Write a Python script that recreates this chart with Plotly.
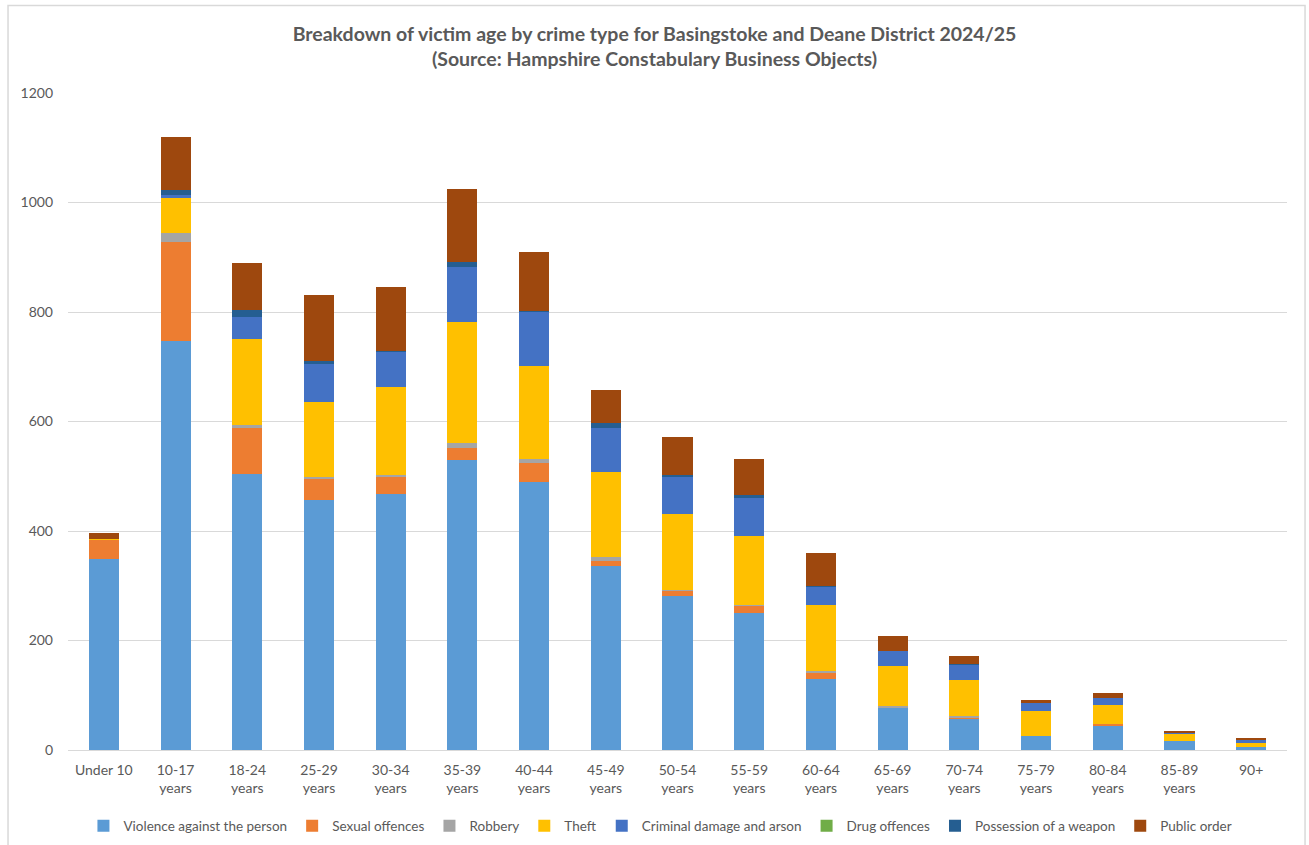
import plotly.graph_objects as go

age_groups = ["Under 10", "10-17<br>years", "18-24<br>years", "25-29<br>years", "30-34<br>years",
              "35-39<br>years", "40-44<br>years", "45-49<br>years", "50-54<br>years", "55-59<br>years",
              "60-64<br>years", "65-69<br>years", "70-74<br>years", "75-79<br>years", "80-84<br>years",
              "85-89<br>years", "90+"]

violence = [348, 747, 504, 456, 467, 529, 489, 336, 281, 251, 130, 78, 56, 26, 45, 16, 5]
sexual = [37, 181, 84, 39, 33, 23, 35, 10, 10, 13, 11, 0, 4, 0, 3, 0, 0]
robbery = [0, 17, 5, 3, 2, 8, 7, 7, 1, 1, 3, 3, 3, 0, 0, 0, 0]
theft = [1, 65, 158, 137, 161, 222, 170, 155, 139, 126, 121, 72, 65, 46, 34, 14, 8]
criminal_damage = [0, 3, 39, 70, 64, 101, 99, 81, 67, 70, 33, 28, 28, 13, 13, 2, 7]
drugs = [0] * 17
weapon = [0, 10, 13, 5, 1, 9, 1, 8, 5, 5, 1, 0, 1, 0, 0, 0, 0]
public_order = [10, 97, 86, 121, 117, 132, 109, 60, 69, 65, 61, 28, 14, 7, 10, 3, 2]

series = [
    ("Violence against the person", violence, "#5B9BD5"),
    ("Sexual offences", sexual, "#ED7D31"),
    ("Robbery", robbery, "#A5A5A5"),
    ("Theft", theft, "#FFC000"),
    ("Criminal damage and arson", criminal_damage, "#4472C4"),
    ("Drug offences", drugs, "#70AD47"),
    ("Possession of a weapon", weapon, "#255E91"),
    ("Public order", public_order, "#9E480E"),
]

font_family = "Lato, Noto Sans, sans-serif"
grey = "#595959"

fig = go.Figure()
for name, vals, color in series:
    fig.add_trace(go.Bar(
        name=name,
        x=age_groups,
        y=vals,
        marker=dict(color=color, line=dict(width=0)),
    ))

# light chart border like the Excel chart area
fig.add_shape(
    type="rect", xref="paper", yref="paper",
    x0=-0.0492, x1=1.0148, y0=-0.16, y1=1.133,
    line=dict(color="#d9d9d9", width=1.5),
    layer="below",
)

fig.update_layout(
    barmode="stack",
    bargap=0.58,
    width=1309,
    height=845,
    paper_bgcolor="white",
    plot_bgcolor="white",
    font=dict(family=font_family, size=14, color=grey),
    title=dict(
        text="<b>Breakdown of victim age by crime type for Basingstoke and Deane District 2024/25<br>"
             "(Source: Hampshire Constabulary Business Objects)</b>",
        x=0.5,
        xanchor="center",
        y=0.9515,
        yanchor="middle",
        font=dict(family=font_family, size=19.5, color=grey),
    ),
    margin=dict(l=68, r=22, t=93, b=95, autoexpand=False),
    legend=dict(
        orientation="h",
        x=0.486,
        xanchor="center",
        y=-0.092,
        yanchor="top",
        traceorder="normal",
        itemwidth=30,
        font=dict(family=font_family, size=13.5, color=grey),
    ),
    xaxis=dict(
        showline=True,
        linecolor="#d9d9d9",
        linewidth=1,
        ticklabelstandoff=7,
        tickfont=dict(family=font_family, size=14, color=grey),
    ),
    yaxis=dict(
        range=[0, 1200],
        dtick=200,
        showgrid=True,
        gridcolor="#d9d9d9",
        zeroline=False,
        tickfont=dict(family=font_family, size=14, color=grey),
        ticklabelstandoff=14,
    ),
)

fig.write_html(
    "out.html",
    config={"displayModeBar": False},
    post_script="document.body.style.margin='0';document.body.style.overflow='hidden';",
)
